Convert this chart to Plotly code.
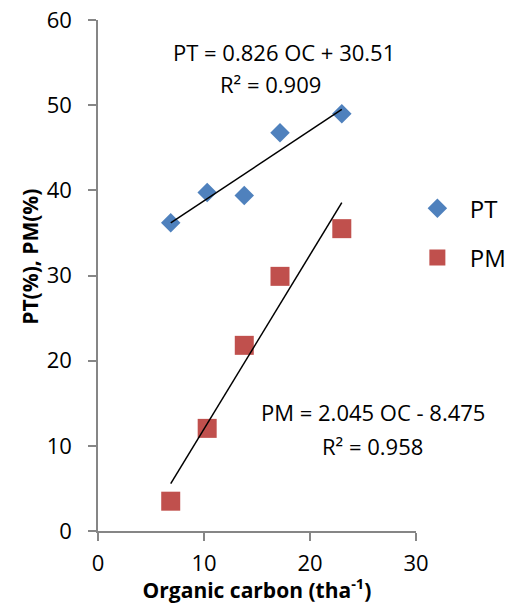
import plotly.graph_objects as go

oc = [6.86, 10.3, 13.8, 17.17, 23.0]
pt = [36.2, 39.75, 39.4, 46.75, 49.0]
pm = [3.5, 12.05, 21.8, 29.9, 35.5]

pt_slope, pt_icpt = 0.826, 30.51
pm_slope, pm_icpt = 2.045, -8.475

x_ticks = [0, 10, 20, 30]
y_ticks = [0, 10, 20, 30, 40, 50, 60]

FONT = "Open Sans"
fig = go.Figure()

fig.add_trace(go.Scatter(x=oc, y=pt, mode="markers", name="PT", legendgroup="a",
                         marker=dict(symbol="diamond", size=15, color="#4F81BD")))
fig.add_trace(go.Scatter(x=oc, y=pm, mode="markers", name="PM", legendgroup="b",
                         marker=dict(symbol="square", size=19, color="#C0504D")))

xs = [min(oc), max(oc)]
fig.add_trace(go.Scatter(x=xs, y=[pt_slope * v + pt_icpt for v in xs], mode="lines",
                         line=dict(color="black", width=1.5), showlegend=False, hoverinfo="skip"))
fig.add_trace(go.Scatter(x=xs, y=[pm_slope * v + pm_icpt for v in xs], mode="lines",
                         line=dict(color="black", width=1.5), showlegend=False, hoverinfo="skip"))

AF = dict(size=22, color="black", family=FONT)
fig.add_annotation(x=17.5, y=56.2, xref="x", yref="y", showarrow=False,
                   text=f"PT = {pt_slope} OC + {pt_icpt}", font=AF)
fig.add_annotation(x=16.3, y=52.5, xref="x", yref="y", showarrow=False,
                   text="R² = 0.909", font=AF)
fig.add_annotation(x=25.9, y=14.0, xref="x", yref="y", showarrow=False,
                   text=f"PM = {pm_slope} OC - {abs(pm_icpt)}", font=AF)
fig.add_annotation(x=25.9, y=10.0, xref="x", yref="y", showarrow=False,
                   text="R² = 0.958", font=AF)

fig.add_annotation(x=-0.215, y=0.536, xref="paper", yref="paper", showarrow=False,
                   textangle=-90, xanchor="center", yanchor="middle",
                   text="<b>PT(%), PM(%)</b>", font=dict(size=21, color="black", family=FONT))

axis_common = dict(showgrid=False, zeroline=False, showline=True, linecolor="#868686", linewidth=1.5,
                   ticks="outside", ticklen=8, tickcolor="#868686", tickwidth=1.5,
                   tickfont=dict(size=22, color="black", family=FONT))

fig.update_xaxes(range=[0, 30], tickvals=x_ticks, ticklabelstandoff=4, **axis_common,
                 title=dict(text="<b>Organic carbon (tha<sup>-1</sup>)</b>", standoff=2,
                            font=dict(size=21, color="black", family=FONT)))
fig.update_yaxes(range=[0, 60], tickvals=y_ticks, ticklabelstandoff=12, **axis_common)

fig.update_layout(
    width=516, height=604,
    margin=dict(l=98, r=100, t=20, b=73, autoexpand=False),
    plot_bgcolor="white", paper_bgcolor="white",
    font=dict(family=FONT, color="black"),
    legend=dict(x=0.965, y=0.675, xanchor="left", yanchor="top", traceorder="grouped",
                tracegroupgap=15, itemwidth=55, font=dict(size=24, color="black", family=FONT),
                bgcolor="rgba(0,0,0,0)"),
)

fig.write_html("out.html")
